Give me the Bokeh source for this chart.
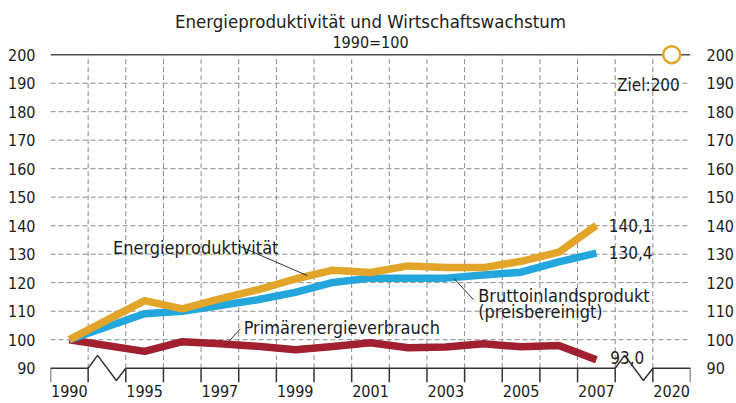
from bokeh.plotting import figure
from bokeh.models import Range1d, FixedTicker, LinearAxis, Label
from bokeh.embed import file_html
from bokeh.resources import INLINE

# ---------------- data ----------------
title_text = "Energieproduktivität und Wirtschaftswachstum"
subtitle_text = "1990=100"

# x axis bands (None = axis break)
bands = ["1990", None, "1995", "1996", "1997", "1998", "1999", "2000", "2001",
         "2002", "2003", "2004", "2005", "2006", "2007", None, "2020"]
year_ticks = ["1990", "1995", "1997", "1999", "2001", "2003", "2005", "2007", "2020"]
y_ticks = [90, 100, 110, 120, 130, 140, 150, 160, 170, 180, 190, 200]

years = [1990, 1995, 1996, 1997, 1998, 1999, 2000, 2001, 2002, 2003, 2004, 2005, 2006, 2007]
energieproduktivitaet = [100, 113.7, 110.8, 114.3, 117.5, 121.3, 124.4, 123.6, 125.9, 125.3, 125.3, 127.5, 130.7, 140.1]
bip = [100, 109.1, 110.0, 112.0, 114.0, 116.6, 120.1, 121.6, 121.6, 121.6, 122.7, 123.7, 127.3, 130.4]
pev = [100, 95.9, 99.3, 98.6, 97.7, 96.5, 97.6, 98.9, 97.2, 97.4, 98.6, 97.5, 98.0, 93.0]
target_year = 2020
target_value = 200

# ---------------- styling ----------------
FONT = "DejaVu Sans Condensed"
C_YEL = "#E2A52A"
C_BLU = "#22A6DC"
C_RED = "#A11F2F"
TXT = "#1c1c1c"

pos = {b: i for i, b in enumerate(bands) if b is not None}
xs = [pos[str(y)] for y in years]
x0, x1 = -0.5, len(bands) - 0.5
ymin, ymax = y_ticks[0], y_ticks[-1]
y_lo, y_hi = 84.98, 219.02
tick_low = y_lo

p = figure(width=736, height=403,
           x_range=Range1d(x0, x1), y_range=Range1d(y_lo, y_hi),
           output_backend="svg", toolbar_location=None,
           min_border_left=50, min_border_right=46, min_border_top=0, min_border_bottom=21)
p.outline_line_color = None
p.grid.visible = False
p.background_fill_color = "white"
p.border_fill_color = "white"

# y axes (labels only)
p.yaxis[0].ticker = FixedTicker(ticks=y_ticks)
right = LinearAxis(ticker=FixedTicker(ticks=y_ticks))
p.add_layout(right, "right")
for ax in [p.yaxis[0], right]:
    ax.axis_line_color = None
    ax.major_tick_line_color = None
    ax.minor_tick_line_color = None
    ax.major_tick_in = 0
    ax.major_tick_out = 0
    ax.major_label_text_font = FONT
    ax.major_label_text_font_size = "16px"
    ax.major_label_text_color = TXT
p.yaxis[0].major_label_standoff = 15
right.major_label_standoff = 16

# x axis (labels only)
xa = p.xaxis[0]
xa.ticker = FixedTicker(ticks=[pos[t] for t in year_ticks])
xa.major_label_overrides = {pos[t]: t for t in year_ticks}
xa.axis_line_color = None
xa.major_tick_line_color = None
xa.minor_tick_line_color = None
xa.major_tick_in = 0
xa.major_tick_out = 0
xa.major_label_standoff = 2
xa.major_label_text_font = FONT
xa.major_label_text_font_size = "16px"
xa.major_label_text_color = TXT

# grid: horizontal
mids = y_ticks[1:-1]
p.segment(x0=[x0] * len(mids), y0=mids, x1=[x1] * len(mids), y1=mids,
          line_color="#8a8a8a", line_width=1, line_dash="5 3")
p.segment(x0=[x0], y0=[ymax], x1=[x1], y1=[ymax], line_color="#4d4d4d", line_width=1.5)
# grid: vertical at band edges
edges = [k - 0.5 for k in range(len(bands) + 1)]
inner = edges[1:-1]
p.segment(x0=inner, y0=[ymin] * len(inner), x1=inner, y1=[ymax] * len(inner),
          line_color="#8a8a8a", line_width=1, line_dash="5 3")
# bottom axis ticks
p.segment(x0=edges, y0=[ymin] * len(edges), x1=edges, y1=[tick_low] * len(edges),
          line_color="#333333", line_width=1.5)
# bottom axis line with breaks
breaks = [i for i, b in enumerate(bands) if b is None]
bx, by = [], []
cur = x0
for i in breaks:
    a = i - 0.5
    bx.append([cur, a]); by.append([ymin, ymin])
    bx.append([a, a + 0.25, a + 0.75, a + 1.0]); by.append([ymin, ymin + 4.5, ymin - 4.3, ymin])
    cur = a + 1.0
bx.append([cur, x1]); by.append([ymin, ymin])
p.multi_line(xs=bx, ys=by, line_color="#333333", line_width=1.5)

# series
p.line(xs, pev, line_color=C_RED, line_width=7.5)
p.line(xs, bip, line_color=C_BLU, line_width=7.5)
p.line(xs, energieproduktivitaet, line_color=C_YEL, line_width=7.5)

# target
p.scatter([pos[str(target_year)]], [target_value], marker="circle", size=17,
          fill_color="white", line_color=C_YEL, line_width=2.5)

# leader lines
p.segment(x0=[4.52, 4.54, 10.21], y0=[132.8, 103.8, 121.6],
          x1=[6.32, 4.14, 10.74], y1=[122.5, 97.97, 114.0],
          line_color="#333333", line_width=1)

def lab(x, y, t, size="18px", align="left"):
    p.add_layout(Label(x=x, y=y, text=t, text_align=align, text_baseline="alphabetic",
                       text_font=FONT, text_font_size=size, text_color=TXT))

mid = (x0 + x1) / 2
lab(mid, 211.5, title_text, "18.5px", "center")
lab(mid, 204.3, subtitle_text, "16px", "center")
lab(1.16, 132.5, "Energieproduktivität")
lab(4.63, 104.4, "Primärenergieverbrauch")
lab(10.86, 115.5, "Bruttoinlandsprodukt")
lab(10.86, 110.0, "(preisbereinigt)")
lab(14.33, 140.1, "140,1", "17px")
lab(14.33, 130.7, "130,4", "17px")
lab(14.37, 93.9, "93,0", "17px")
lab(14.55, 189.2, "Ziel:200", "17px")

open("out.html", "w").write(file_html(p, INLINE))
